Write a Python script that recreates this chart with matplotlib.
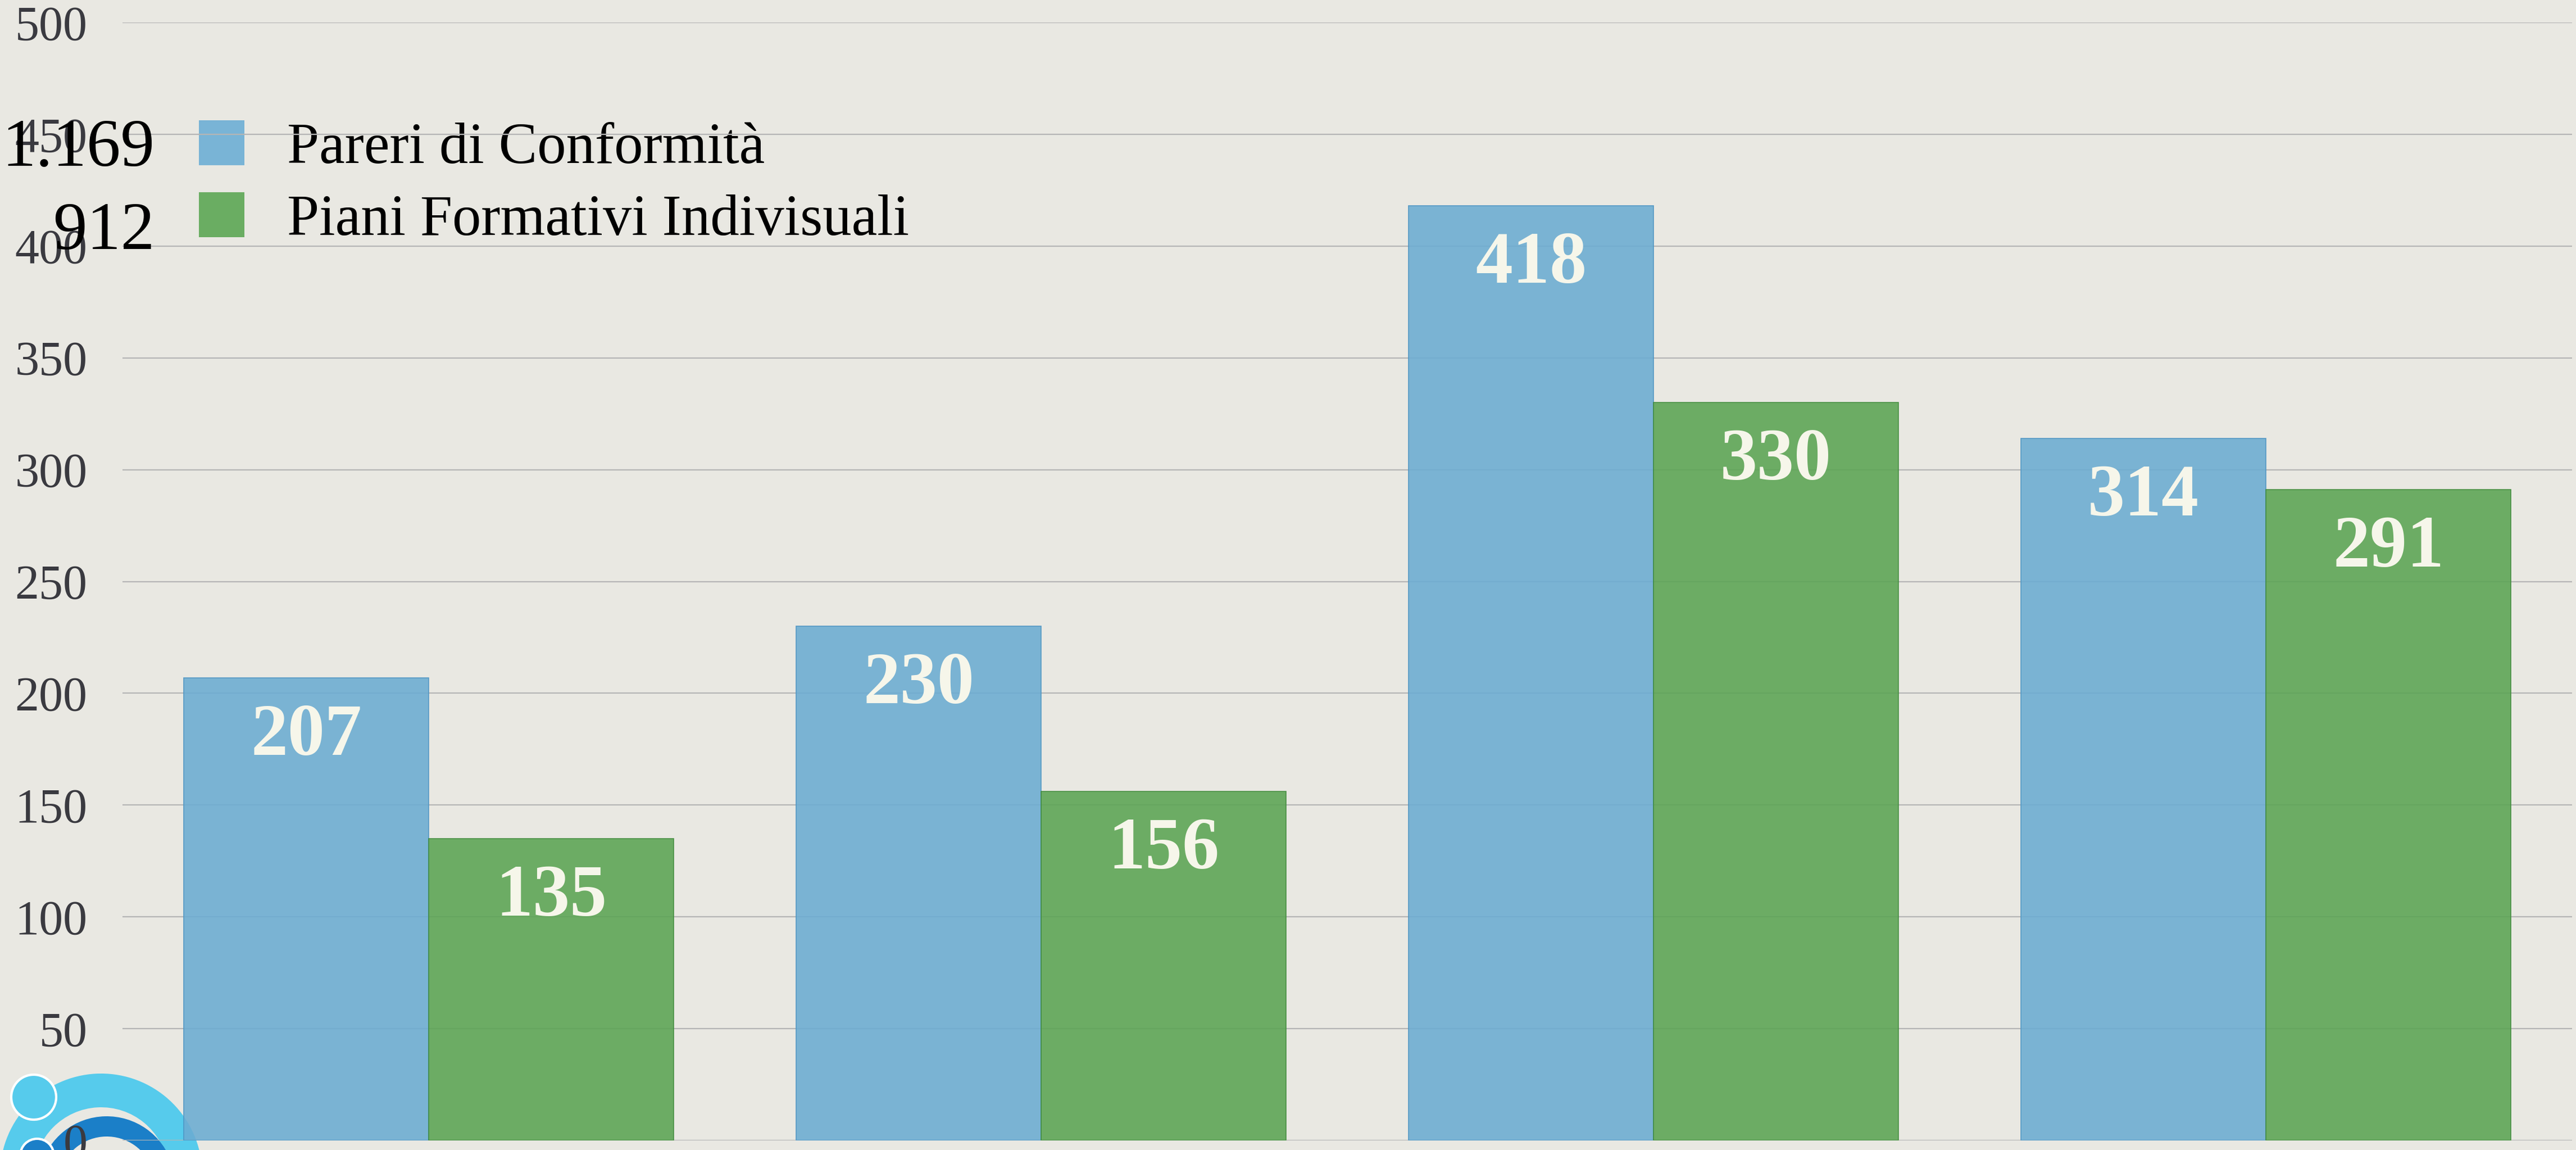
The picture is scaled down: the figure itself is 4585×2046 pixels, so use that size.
import numpy as np
import matplotlib
matplotlib.use("Agg")
import matplotlib.pyplot as plt
from matplotlib.patches import Rectangle, Wedge, Circle

# ---- data ----
series_names = ["Pareri di Conformità", "Piani Formativi Indivisuali"]
pareri = [207, 230, 418, 314]
piani = [135, 156, 330, 291]
y_ticks = [0, 50, 100, 150, 200, 250, 300, 350, 400, 450, 500]

# ---- style ----
paper = "#e9e8e2"
blue = "#6bacd2"
green = "#5ba453"
blue_leg = "#79b4d6"
green_leg = "#6aad62"
W, H = 4585, 2046
DPI = 100

plt.rcParams["font.family"] = ["Liberation Serif", "DejaVu Serif"]

fig = plt.figure(figsize=(W / DPI, H / DPI), dpi=DPI, facecolor=paper)

# background overlay in pixel coordinates (y up)
ax0 = fig.add_axes([0, 0, 1, 1], zorder=0)
ax0.set_xlim(0, W)
ax0.set_ylim(0, H)
ax0.axis("off")

# logo (bottom-left, partially visible)
light = "#56cbec"
dark = "#1b7fc8"
ax0.add_patch(Wedge((180, -44), 180, 8, 178, width=60, facecolor=light, edgecolor="none"))
ax0.add_patch(Circle((60, 94), 40, facecolor=light, edgecolor="white", linewidth=3))
ax0.add_patch(Wedge((190, -62), 122, 18, 165, width=36, facecolor=dark, edgecolor="none"))
ax0.add_patch(Circle((66, -10), 30, facecolor=dark, edgecolor="white", linewidth=3))

# main axes
left, right = 218, 4578
bottom_px, top_px = 2029, 40
ax = fig.add_axes([left / W, (H - bottom_px) / H, (right - left) / W, (bottom_px - top_px) / H], zorder=1)
ax.set_facecolor("none")

x = np.arange(len(pareri))
w = 0.4
b1 = ax.bar(x - w / 2, pareri, w, color=blue, alpha=0.88, edgecolor="#4b93c2", linewidth=1.2, zorder=2)
b2 = ax.bar(x + w / 2, piani, w, color=green, alpha=0.88, edgecolor="#3f8a3b", linewidth=1.2, zorder=2)

for bars, vals in ((b1, pareri), (b2, piani)):
    for r, v in zip(bars, vals):
        ax.annotate(str(v), (r.get_x() + r.get_width() / 2, v), xytext=(0, -76),
                    textcoords="offset points", ha="center", va="center",
                    fontsize=95, fontweight="bold", color="#f6f6ea", zorder=3)

ax.set_xlim(-0.5, len(pareri) - 0.5)
ax.set_ylim(0, 500)
ax.set_yticks(y_ticks)
ax.set_yticklabels([str(t) for t in y_ticks])
ax.set_xticks([])
ax.tick_params(axis="y", length=0, pad=45, labelsize=62, labelcolor="#3a3a40")
ax.yaxis.grid(True, color="#b5b5b5", linewidth=1.6, zorder=0)
ax.set_axisbelow(True)
for s in ax.spines.values():
    s.set_visible(False)

# legend with totals (pixel coordinates, y up)
def it_fmt(n):
    return f"{n:,}".replace(",", ".")

totals = [sum(pareri), sum(piani)]
leg_rows = [(1752, blue_leg, 1756, 1751), (1624, green_leg, 1628, 1603)]
for (sq_y, col, txt_y, tot_y), name, tot in zip(leg_rows, series_names, totals):
    ax0.add_patch(Rectangle((354, sq_y), 81, 80, facecolor=col, edgecolor="none"))
    ax0.text(511, txt_y, name, ha="left", va="baseline", fontsize=74, color="black")
    fig.text(275 / W, tot_y / H, it_fmt(tot), ha="right", va="baseline", fontsize=87,
             color="black", zorder=5)

fig.savefig("out.png", dpi=DPI, facecolor=paper)
